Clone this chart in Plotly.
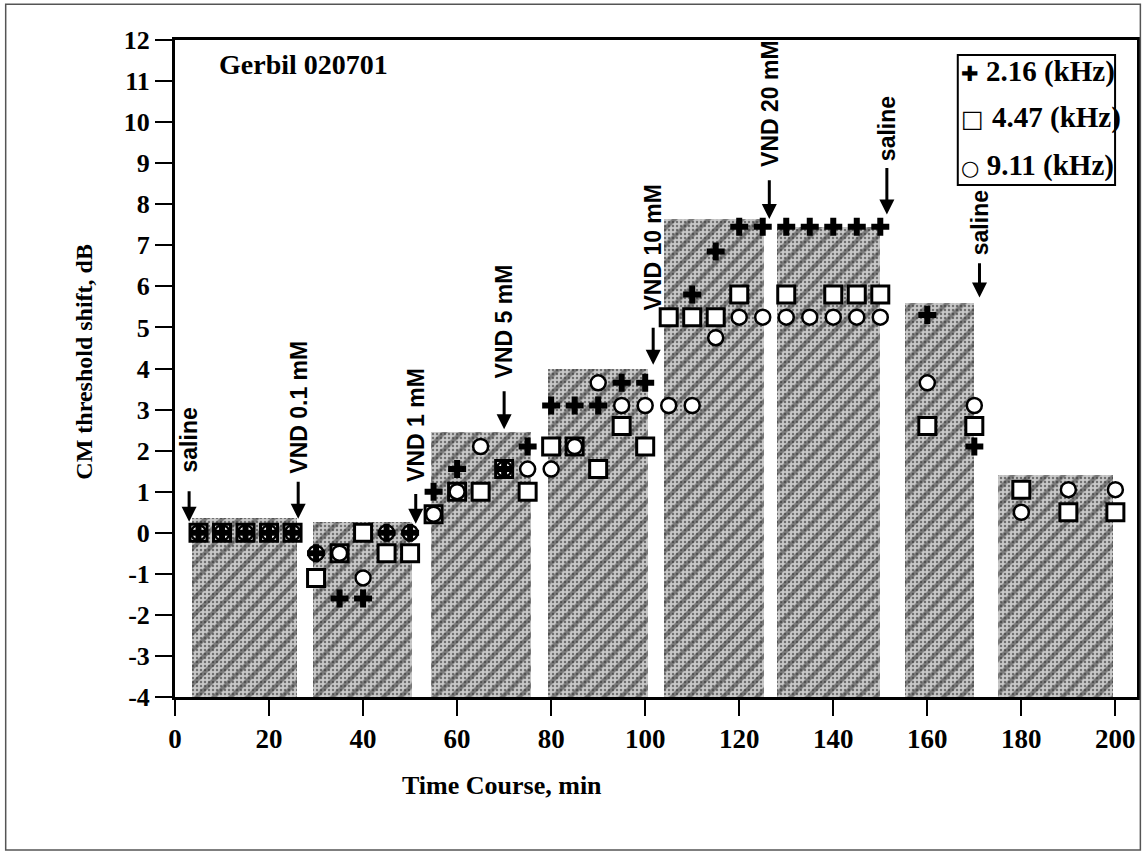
import plotly.graph_objects as go

# ---------------- data ----------------
cross_t = [5, 10, 15, 20, 25, 30, 35, 40, 45, 50, 55, 60, 70, 75, 80, 85, 90, 95, 100,
           110, 115, 120, 125, 130, 135, 140, 145, 150, 160, 170]
cross_v = [0, 0, 0, 0, 0, -0.5, -1.6, -1.6, 0, 0, 1.0, 1.55, 1.55, 2.1, 3.1, 3.1, 3.1, 3.65, 3.65,
           5.8, 6.85, 7.45, 7.45, 7.45, 7.45, 7.45, 7.45, 7.45, 5.3, 2.1]

square_t = [5, 10, 15, 20, 25, 30, 35, 40, 45, 50, 55, 60, 65, 70, 75, 80, 85, 90, 95, 100,
            105, 110, 115, 120, 130, 140, 145, 150, 160, 170, 180, 190, 200]
square_v = [0, 0, 0, 0, 0, -1.1, -0.5, 0, -0.5, -0.5, 0.45, 1.0, 1.0, 1.55, 1.0, 2.1, 2.1, 1.55, 2.6, 2.1,
            5.25, 5.25, 5.25, 5.8, 5.8, 5.8, 5.8, 5.8, 2.6, 2.6, 1.05, 0.5, 0.5]

circle_t = [5, 10, 15, 20, 25, 30, 35, 40, 45, 50, 55, 60, 65, 70, 75, 80, 85, 90, 95, 100,
            105, 110, 115, 120, 125, 130, 135, 140, 145, 150, 160, 170, 180, 190, 200]
circle_v = [0, 0, 0, 0, 0, -0.5, -0.5, -1.1, 0, 0, 0.45, 1.0, 2.1, 1.55, 1.55, 1.55, 2.1, 3.65, 3.1, 3.1,
            3.1, 3.1, 4.75, 5.25, 5.25, 5.25, 5.25, 5.25, 5.25, 5.25, 3.65, 3.1, 0.5, 1.05, 1.05]

series_names = ["2.16 (kHz)", "4.47 (kHz)", "9.11 (kHz)"]
series_glyphs = ["\u271a", "\u25a1", "\u25cb"]

# shaded recording periods (minutes) and their top level (dB)
block_start = [3.7, 29.3, 54.5, 79.3, 104.1, 128.1, 155.2, 175.0]
block_end = [25.9, 50.4, 75.8, 100.6, 125.2, 150.0, 170.0, 199.6]
block_top = [0.35, 0.25, 2.45, 4.0, 7.65, 7.45, 5.6, 1.4]

event_labels = ["saline", "VND 0.1 mM", "VND 1 mM", "VND 5 mM", "VND 10 mM", "VND 20 mM", "saline", "saline"]
event_times = [3.0, 26.2, 51.2, 70.0, 101.7, 126.4, 151.4, 171.1]

x_ticks = [0, 20, 40, 60, 80, 100, 120, 140, 160, 180, 200]
y_ticks = list(range(-4, 13))

# ---------------- layout helpers (placement only) ----------------
Y_MIN, Y_MAX = -4, 12
arrow_tip = [0.27, 0.34, 0.22, 2.52, 4.09, 7.64, 7.75, 5.73]
arrow_tail = [1.05, 1.28, 0.98, 3.48, 5.03, 8.62, 8.92, 6.6]
label_y = [2.25, 3.05, 2.62, 5.15, 6.95, 10.45, 9.85, 7.55]
legend_y = [0.9513, 0.8813, 0.8097]
glyph_size = [21, 24, 21]

SERIF = "Liberation Serif, Times New Roman, serif"
SANS = "Liberation Sans, Arial, sans-serif"

fig = go.Figure()

bx = [(a + b) / 2 for a, b in zip(block_start, block_end)]
bw = [b - a for a, b in zip(block_start, block_end)]
bh = [t - Y_MIN for t in block_top]

fig.add_trace(go.Bar(
    x=bx, y=bh, base=[Y_MIN] * len(bx), width=bw,
    marker=dict(color="#c8c8c8", line=dict(width=0),
                pattern=dict(shape=".", fillmode="overlay", fgcolor="#1a1a1a",
                             size=4, solidity=0.3)),
    showlegend=False, hoverinfo="skip"))
fig.add_trace(go.Bar(
    x=bx, y=bh, base=[Y_MIN] * len(bx), width=bw,
    marker=dict(color="rgba(0,0,0,0)", line=dict(width=0),
                pattern=dict(shape="/", fillmode="overlay", fgcolor="#303030",
                             fgopacity=0.5, size=12, solidity=0.35)),
    showlegend=False, hoverinfo="skip"))

fig.add_trace(go.Scatter(
    x=square_t, y=square_v, mode="markers", name=series_names[1], showlegend=False,
    marker=dict(symbol="square", size=17, color="white", line=dict(color="black", width=3))))
fig.add_trace(go.Scatter(
    x=circle_t, y=circle_v, mode="markers", name=series_names[2], showlegend=False,
    marker=dict(symbol="circle", size=15, color="white", line=dict(color="black", width=2.5))))
fig.add_trace(go.Scatter(
    x=cross_t, y=cross_v, mode="markers", name=series_names[0], showlegend=False,
    marker=dict(symbol="cross", size=15, color="black", line=dict(width=0))))

annotations = []
for lab, t, tip, tail, ly in zip(event_labels, event_times, arrow_tip, arrow_tail, label_y):
    annotations.append(dict(
        x=t, y=ly, xref="x", yref="y", text=lab, textangle=-90, showarrow=False,
        xanchor="center", yanchor="middle",
        font=dict(family=SANS, size=23, color="black", weight="bold")))
    annotations.append(dict(
        x=t, y=tip, xref="x", yref="y", ax=t, ay=tail, axref="x", ayref="y",
        text="", showarrow=True, arrowhead=2, arrowsize=1.0, arrowwidth=3,
        arrowcolor="black", standoff=0, startstandoff=0, font=dict(size=1)))

# legend box built from text entries
for name, glyph, gs, ly in zip(series_names, series_glyphs, glyph_size, legend_y):
    annotations.append(dict(
        x=0.8145, y=ly, xref="paper", yref="paper",
        text=("<span style=\"font-family:DejaVu Sans;font-size:%dpx\">%s </span>%s" % (gs, glyph, name)),
        showarrow=False, xanchor="left", yanchor="middle",
        font=dict(family=SERIF, size=29, color="black", weight="bold")))

annotations.append(dict(
    x=0.0435, y=0.962, xref="paper", yref="paper", text="Gerbil 020701",
    showarrow=False, xanchor="left", yanchor="middle",
    font=dict(family=SERIF, size=28, color="black", weight="bold")))
annotations.append(dict(
    x=-0.0942, y=0.511, xref="paper", yref="paper", text="CM threshold shift, dB",
    textangle=-90, showarrow=False, xanchor="center", yanchor="middle",
    font=dict(family=SERIF, size=24, color="black", weight="bold")))
annotations.append(dict(
    x=0.3395, y=-0.134, xref="paper", yref="paper", text="Time Course, min",
    showarrow=False, xanchor="center", yanchor="middle",
    font=dict(family=SERIF, size=26, color="black", weight="bold")))

fig.update_layout(
    width=1148, height=859, autosize=False,
    margin=dict(l=175, r=8, t=40, b=162),
    paper_bgcolor="white", plot_bgcolor="white",
    barmode="overlay", bargap=0,
    annotations=annotations,
    showlegend=False,
    shapes=[
        dict(type="rect", xref="paper", yref="paper",
             x0=-0.176, x1=1.0035, y0=-0.2329, y1=1.0545,
             line=dict(color="#555", width=1.5)),
        dict(type="rect", xref="paper", yref="paper",
             x0=0.8137, x1=0.9772, y0=0.7793, y1=0.9772,
             fillcolor="white", line=dict(color="black", width=2)),
    ],
    xaxis=dict(range=[0, 204.6], tickvals=x_ticks, ticktext=[str(v) for v in x_ticks],
               showgrid=False, zeroline=False, showline=True, linecolor="black",
               linewidth=3, mirror=True, ticks="outside", ticklen=16, tickwidth=2,
               tickcolor="black",
               tickfont=dict(family=SERIF, size=27, color="black", weight="bold")),
    yaxis=dict(range=[Y_MIN, Y_MAX], tickvals=y_ticks, ticktext=[str(v) for v in y_ticks],
               showgrid=False, zeroline=False, showline=True, linecolor="black",
               linewidth=3, mirror=True, ticks="outside", ticklen=17, tickwidth=2,
               tickcolor="black",
               tickfont=dict(family=SERIF, size=26, color="black", weight="bold")),
)

fig.write_html("out.html",
               config={"displayModeBar": False},
               post_script="document.body.style.margin='0px';document.body.style.overflow='hidden';")
